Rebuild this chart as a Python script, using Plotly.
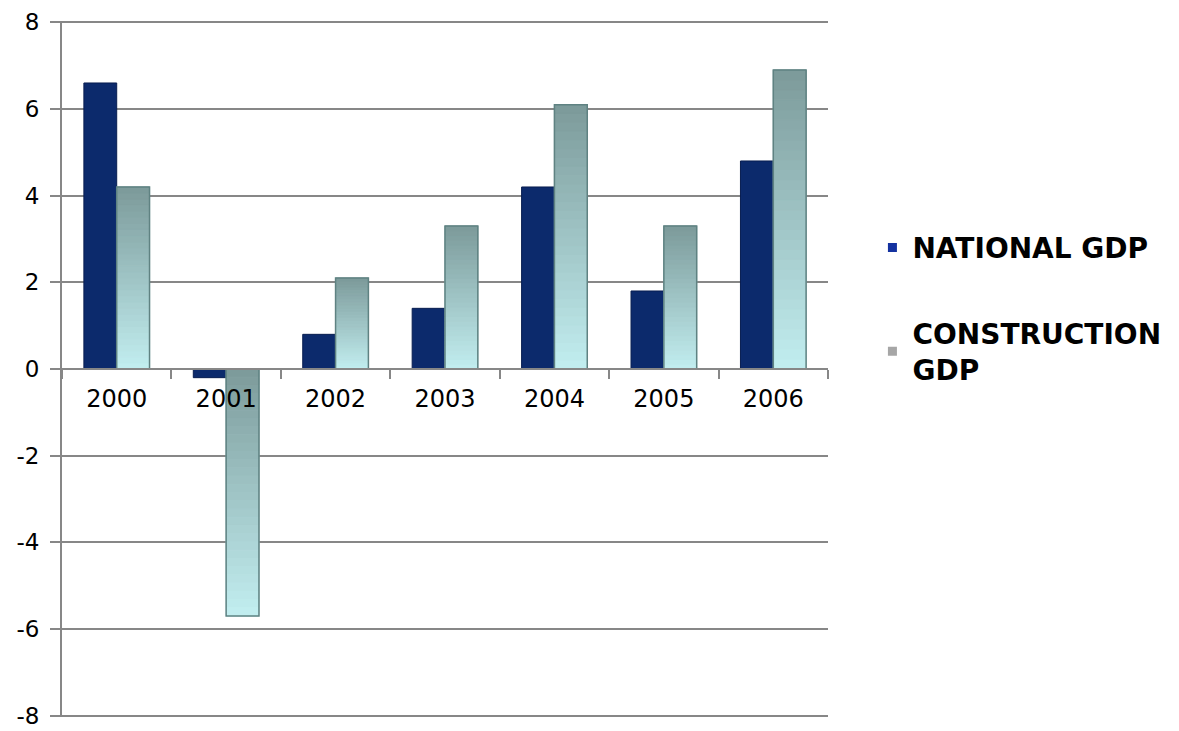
import plotly.graph_objects as go

years = ["2000", "2001", "2002", "2003", "2004", "2005", "2006"]
national_gdp = [6.6, -0.2, 0.8, 1.4, 4.2, 1.8, 4.8]
construction_gdp = [4.2, -5.7, 2.1, 3.3, 6.1, 3.3, 6.9]
y_ticks = [-8, -6, -4, -2, 0, 2, 4, 6, 8]

DARK = (124, 154, 154)
LIGHT = (194, 238, 240)
N_SEG = 30


def mix(p):
    r = [round(DARK[i] + (LIGHT[i] - DARK[i]) * p) for i in range(3)]
    return f"rgb({r[0]},{r[1]},{r[2]})"


fig = go.Figure()

# National GDP bars
fig.add_trace(go.Bar(
    x=years, y=national_gdp, width=0.3, offset=-0.3,
    marker=dict(color="#0c2a6c", line=dict(color="#081d50", width=1)),
    showlegend=False, hoverinfo="x+y",
))

# Construction GDP bars drawn as gradient segments (top dark -> bottom light)
for k in range(N_SEG):
    bases = [v * k / N_SEG for v in construction_gdp]
    heights = [v / N_SEG for v in construction_gdp]
    cols = []
    for v in construction_gdp:
        p = 1 - (k + 0.5) / N_SEG if v >= 0 else (k + 0.5) / N_SEG
        cols.append(mix(p))
    fig.add_trace(go.Bar(
        x=years, y=heights, base=bases, width=0.3, offset=0.0,
        marker=dict(color=cols, line=dict(color=cols, width=1)),
        showlegend=False, hoverinfo="skip",
    ))

# outline for construction bars
fig.add_trace(go.Bar(
    x=years, y=construction_gdp, width=0.3, offset=0.0,
    marker=dict(color="rgba(0,0,0,0)", line=dict(color="#5f8282", width=1.5)),
    showlegend=False, hoverinfo="x+y",
))

# legend entries
fig.add_trace(go.Scatter(
    x=[None], y=[None], mode="markers", name="<b>NATIONAL GDP</b>",
    marker=dict(symbol="square", size=9, color="#1432a0"), legendgroup="a",
))
fig.add_trace(go.Scatter(
    x=[None], y=[None], mode="markers", name="<b>CONSTRUCTION<br>GDP</b>",
    marker=dict(symbol="square", size=9, color="#a6a6a6"), legendgroup="b",
))

fig.update_layout(
    width=1179, height=731,
    margin=dict(l=62, r=351, t=21, b=14, autoexpand=False),
    paper_bgcolor="white", plot_bgcolor="white",
    barmode="overlay",
    font=dict(family="DejaVu Sans", color="black"),
    legend=dict(
        x=1.058, y=0.71, xanchor="left", yanchor="top",
        font=dict(size=28, color="black"),
        tracegroupgap=46, traceorder="grouped",
        bgcolor="rgba(0,0,0,0)",
    ),
    xaxis=dict(
        type="category", anchor="free", position=0.5,
        showline=True, linecolor="#878787", linewidth=2,
        ticks="outside", tickson="boundaries", ticklen=9, tickcolor="#878787", tickwidth=2,
        tickfont=dict(size=24, color="black"),
        ticklabelstandoff=8, automargin=False,
        showgrid=False, layer="above traces",
        range=[-0.5, 6.5],
    ),
    yaxis=dict(
        range=[-8.03, 8.03], tickvals=y_ticks, ticktext=[str(v) for v in y_ticks],
        showgrid=True, gridcolor="#878787", gridwidth=2,
        zeroline=False, automargin=False,
        showline=True, linecolor="#878787", linewidth=2,
        ticks="outside", ticklen=10, tickcolor="#878787", tickwidth=2,
        tickfont=dict(size=23, color="black"),
        ticklabeloverflow="allow", ticklabelstandoff=6,
    ),
)

fig.write_html("out.html")
